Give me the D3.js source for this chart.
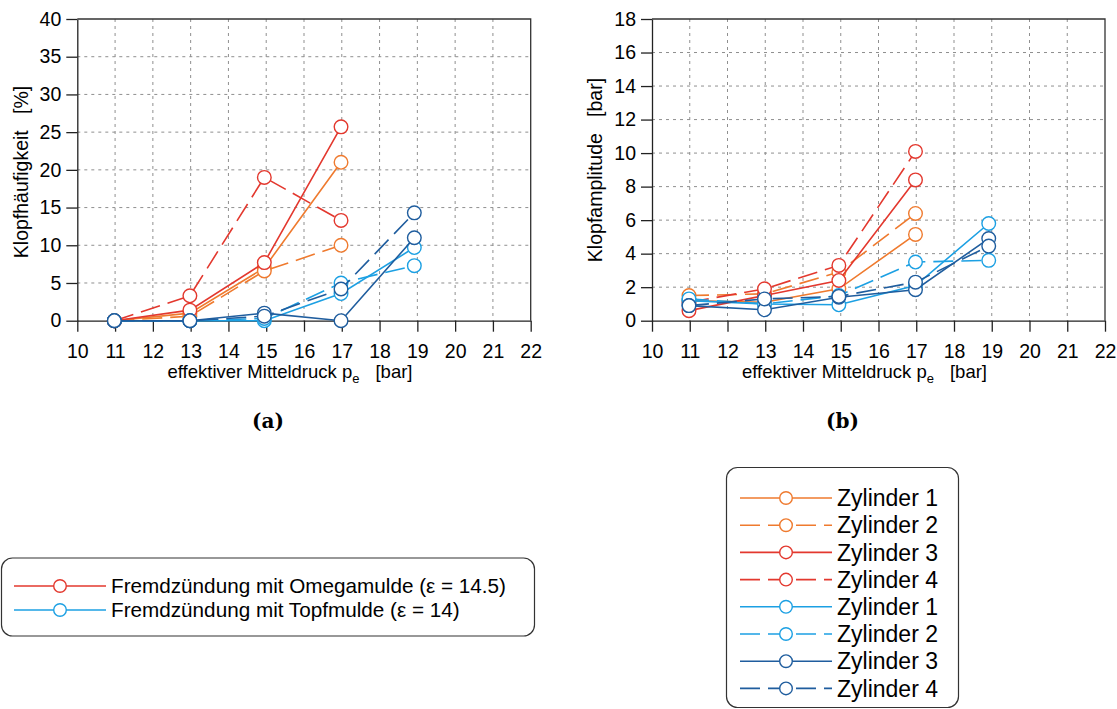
<!DOCTYPE html>
<html>
<head>
<meta charset="utf-8">
<script src="https://cdn.jsdelivr.net/npm/d3@7"></script>
<style>
  body { margin: 0; background: #fff; }
  svg { display: block; font-family: "Liberation Sans", Arial, sans-serif; }
</style>
</head>
<body>
<div id="chart"></div>
<script>
// effektiver Mitteldruck der Messpunkte [bar]
var pressure = [10.98, 12.98, 14.95, 16.98, 18.92];
var xTicks = [10, 11, 12, 13, 14, 15, 16, 17, 18, 19, 20, 21, 22];
var freqTicks = [0, 5, 10, 15, 20, 25, 30, 35, 40];
var ampTicks = [0, 2, 4, 6, 8, 10, 12, 14, 16, 18];

// Klopfhaeufigkeit [%]
var freqOmegaZ1 = [0, 1.0, 7.0, 21.0];
var freqOmegaZ2 = [0, 0.6, 6.6, 10.0];
var freqOmegaZ3 = [0, 1.4, 7.7, 25.7];
var freqOmegaZ4 = [0, 3.3, 19.0, 13.3];
var freqTopfZ1 = [0, 0, 0, 3.6, 9.7];
var freqTopfZ2 = [0, 0, 0.3, 5.0, 7.3];
var freqTopfZ3 = [0, 0, 1.0, 0, 11.0];
var freqTopfZ4 = [0, 0, 0.6, 4.2, 14.3];

// Klopfamplitude [bar]
var ampOmegaZ1 = [1.2, 1.1, 1.9, 5.15];
var ampOmegaZ2 = [1.5, 1.6, 2.9, 6.4];
var ampOmegaZ3 = [0.6, 1.5, 2.4, 8.4];
var ampOmegaZ4 = [1.1, 1.9, 3.3, 10.1];
var ampTopfZ1 = [1.2, 1.0, 0.95, 2.1, 5.8];
var ampTopfZ2 = [1.3, 1.0, 1.5, 3.5, 3.6];
var ampTopfZ3 = [0.9, 0.65, 1.4, 1.85, 4.9];
var ampTopfZ4 = [0.9, 1.3, 1.45, 2.3, 4.45];

var cylinderNames = ['Zylinder 1', 'Zylinder 2', 'Zylinder 3', 'Zylinder 4',
                     'Zylinder 1', 'Zylinder 2', 'Zylinder 3', 'Zylinder 4'];
var groupNames = ['Fremdzündung mit Omegamulde (\u03b5 = 14.5)', 'Fremdzündung mit Topfmulde (\u03b5 = 14)'];

var chart = (function(){
    var _orange = '#ef7a2e',
        _red = '#e3382e',
        _light = '#1ca0e3',
        _dark = '#1f5d9e';

    var _dash = '20,8';

    // one style per series, same order as cylinderNames
    var _styles = [
        {color: _orange, dash: null},
        {color: _orange, dash: _dash},
        {color: _red, dash: null},
        {color: _red, dash: _dash},
        {color: _light, dash: null},
        {color: _light, dash: _dash},
        {color: _dark, dash: null},
        {color: _dark, dash: _dash}
    ];

    var _svg = null;

    function init(){
        _svg = d3.select('#chart').append('svg')
            .attr('width', 1117)
            .attr('height', 709);
        _svg.append('rect').attr('width', 1117).attr('height', 709).attr('fill', '#fff');
    }

    function _drawPanel(cfg){
        var g = _svg.append('g')
            .attr('transform', 'translate(' + cfg.left + ',' + cfg.top + ')');

        var x = d3.scaleLinear().domain([10, 22]).range([0, cfg.width]);
        var y = d3.scaleLinear().domain([0, cfg.ticks[cfg.ticks.length - 1]]).range([cfg.height, 0]);

        // dotted grid
        var grid = g.append('g')
            .attr('stroke', '#8f8f8f')
            .attr('stroke-width', 1)
            .attr('stroke-dasharray', '3,4');
        grid.selectAll('line.v')
            .data(xTicks.slice(1, -1))
            .enter().append('line')
                .attr('class', 'v')
                .attr('x1', function(d){ return x(d); })
                .attr('x2', function(d){ return x(d); })
                .attr('y1', 0)
                .attr('y2', cfg.height);
        grid.selectAll('line.h')
            .data(cfg.ticks.slice(1, -1))
            .enter().append('line')
                .attr('class', 'h')
                .attr('x1', 0)
                .attr('x2', cfg.width)
                .attr('y1', function(d){ return y(d); })
                .attr('y2', function(d){ return y(d); });

        // axes
        var xAxis = g.append('g')
            .attr('transform', 'translate(0,' + cfg.height + ')')
            .call(d3.axisBottom(x).tickValues(xTicks).tickSizeInner(11).tickSizeOuter(0).tickPadding(12));
        var yAxis = g.append('g')
            .call(d3.axisLeft(y).tickValues(cfg.ticks).tickSizeInner(11).tickSizeOuter(0).tickPadding(5));

        [xAxis, yAxis].forEach(function(a){
            a.attr('font-family', '"Liberation Sans", Arial, sans-serif')
             .attr('font-size', 19.5);
            a.selectAll('path, line').attr('stroke', '#222').attr('stroke-width', 1.3);
            a.selectAll('text').attr('fill', '#000');
        });

        // box top / right
        g.append('path')
            .attr('d', 'M0,0H' + cfg.width + 'V' + cfg.height)
            .attr('fill', 'none')
            .attr('stroke', '#333')
            .attr('stroke-width', 1.3);

        // series
        var line = d3.line()
            .x(function(d){ return x(d.p); })
            .y(function(d){ return y(d.v); });

        cfg.series.forEach(function(vals, i){
            var pts = vals.map(function(v, k){ return {p: pressure[k], v: v}; });
            var st = _styles[i];
            g.append('path')
                .datum(pts)
                .attr('d', line)
                .attr('fill', 'none')
                .attr('stroke', st.color)
                .attr('stroke-width', 1.6)
                .attr('stroke-dasharray', st.dash);
            g.selectAll(null)
                .data(pts)
                .enter().append('circle')
                    .attr('cx', function(d){ return x(d.p); })
                    .attr('cy', function(d){ return y(d.v); })
                    .attr('r', 6.8)
                    .attr('fill', '#fff')
                    .attr('stroke', st.color)
                    .attr('stroke-width', 1.4);
        });

        // axis titles
        var xl = _svg.append('text')
            .attr('x', cfg.left + cfg.width / 2 - 14)
            .attr('y', 378)
            .attr('text-anchor', 'middle')
            .attr('font-size', 18.5)
            .text('effektiver Mitteldruck p');
        xl.append('tspan').attr('dy', 5).attr('font-size', 13).text('e');
        xl.append('tspan').attr('dy', -5).attr('dx', 16).text('[bar]');

        _svg.append('text')
            .attr('transform', 'translate(' + cfg.yLabelX + ',' + cfg.yLabelY + ') rotate(-90)')
            .attr('text-anchor', 'middle')
            .attr('font-size', 19.5)
            .attr('xml:space', 'preserve')
            .text(cfg.yLabel);

        _svg.append('text')
            .attr('x', cfg.left + cfg.width / 2 - 36)
            .attr('y', 428)
            .attr('text-anchor', 'middle')
            .attr('font-family', '"DejaVu Serif", "Liberation Serif", serif')
            .attr('font-weight', 'bold')
            .attr('font-size', 20)
            .text(cfg.caption);
    }

    function _legendRow(g, y, x0, x1, st, label, fontSize){
        g.append('line')
            .attr('x1', x0).attr('x2', x1)
            .attr('y1', y).attr('y2', y)
            .attr('stroke', st.color)
            .attr('stroke-width', 1.6)
            .attr('stroke-dasharray', st.dash);
        g.append('circle')
            .attr('cx', (x0 + x1) / 2).attr('cy', y)
            .attr('r', 6.3)
            .attr('fill', '#fff')
            .attr('stroke', st.color)
            .attr('stroke-width', 1.4);
        g.append('text')
            .attr('x', x1 + 5).attr('y', y + fontSize * 0.36)
            .attr('font-size', fontSize)
            .text(label);
    }

    function drawLegends(){
        var g1 = _svg.append('g');
        g1.append('rect')
            .attr('x', 1.5).attr('y', 558).attr('width', 533).attr('height', 78)
            .attr('rx', 11)
            .attr('fill', '#fff').attr('stroke', '#333').attr('stroke-width', 1.2);
        groupNames.forEach(function(name, i){
            _legendRow(g1, 586 + i * 24, 14, 106, {color: i ? _light : _red, dash: null}, name, 20.7);
        });

        var g2 = _svg.append('g');
        g2.append('rect')
            .attr('x', 726.5).attr('y', 467.5).attr('width', 232).attr('height', 240)
            .attr('rx', 11)
            .attr('fill', '#fff').attr('stroke', '#333').attr('stroke-width', 1.2);
        cylinderNames.forEach(function(name, i){
            _legendRow(g2, 498 + i * 27.2, 740, 832, _styles[i], name, 23);
        });
    }

    function drawAll(){
        _drawPanel({
            left: 77.3, top: 19, width: 453.4, height: 301.7,
            ticks: freqTicks,
            series: [freqOmegaZ1, freqOmegaZ2, freqOmegaZ3, freqOmegaZ4,
                     freqTopfZ1, freqTopfZ2, freqTopfZ3, freqTopfZ4],
            yLabel: 'Klopfhäufigkeit   [%]',
            yLabelX: 28, yLabelY: 172,
            caption: '(a)'
        });
        _drawPanel({
            left: 652, top: 19, width: 453, height: 301.7,
            ticks: ampTicks,
            series: [ampOmegaZ1, ampOmegaZ2, ampOmegaZ3, ampOmegaZ4,
                     ampTopfZ1, ampTopfZ2, ampTopfZ3, ampTopfZ4],
            yLabel: 'Klopfamplitude   [bar]',
            yLabelX: 602, yLabelY: 170,
            caption: '(b)'
        });
        drawLegends();
    }

    return {
        init: init,
        drawAll: drawAll
    };
})();

chart.init();
chart.drawAll();
</script>
</body>
</html>
